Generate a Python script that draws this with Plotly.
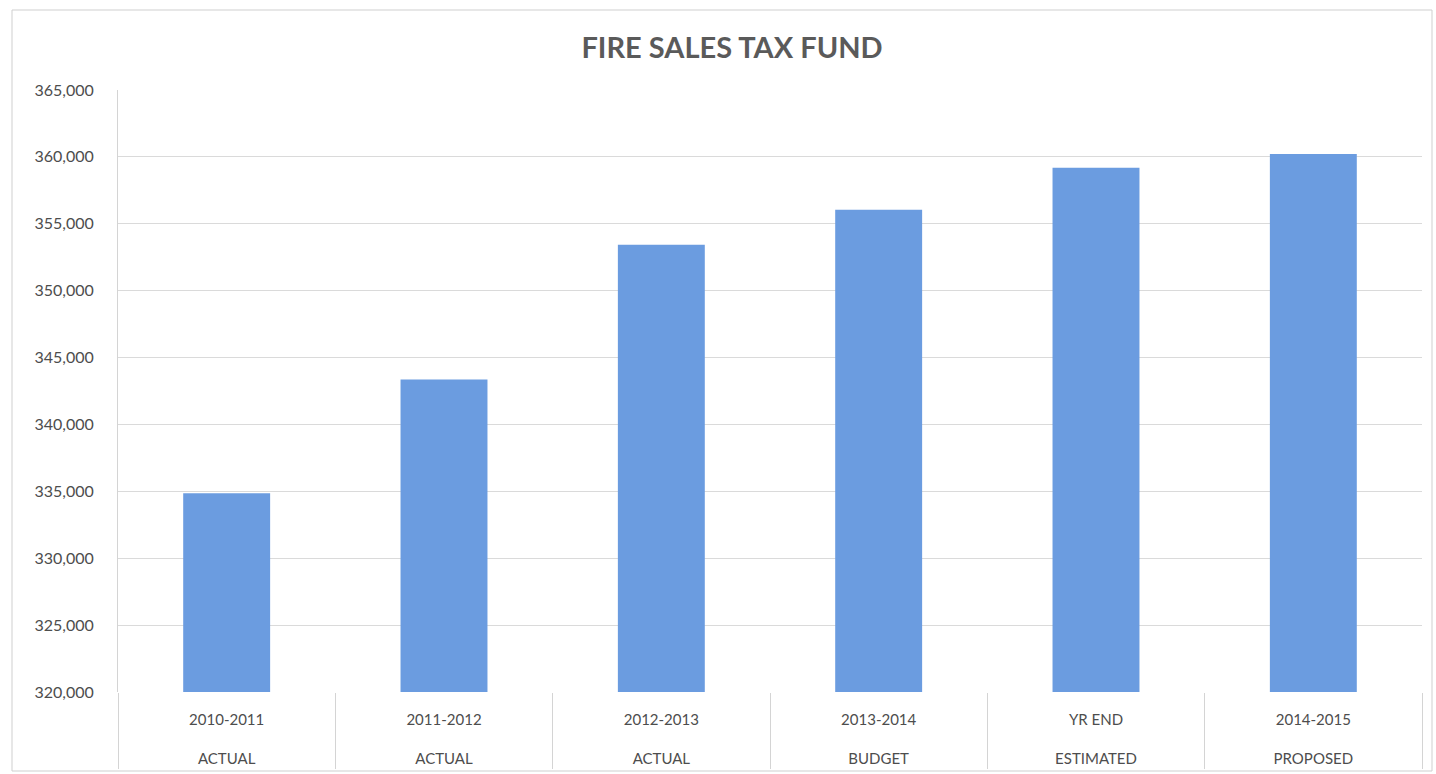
import plotly.graph_objects as go

# Fund totals by fiscal period
periods = ["2010-2011", "2011-2012", "2012-2013", "2013-2014", "YR END", "2014-2015"]
statuses = ["ACTUAL", "ACTUAL", "ACTUAL", "BUDGET", "ESTIMATED", "PROPOSED"]
amounts = [334850, 343360, 353430, 356040, 359180, 360220]

y_ticks = list(range(320000, 365001, 5000))
category_labels = [f"{p}<br><br>{s}" for p, s in zip(periods, statuses)]

W, H = 1436, 774
margin = dict(l=118, r=14, t=90, b=82)

fig = go.Figure(
    go.Bar(
        x=category_labels,
        y=amounts,
        marker=dict(color="#6b9ce0", line=dict(width=0)),
        width=0.4,
        hovertemplate="%{x}: %{y:,}<extra></extra>",
    )
)

font_family = "Lato, 'Open Sans', sans-serif"

fig.update_layout(
    width=W,
    height=H,
    margin=margin,
    paper_bgcolor="white",
    plot_bgcolor="white",
    showlegend=False,
    font=dict(family=font_family, color="#4d4d4d", size=16),
    title=dict(
        text="<b>FIRE SALES TAX FUND</b>",
        x=732 / W,
        xanchor="center",
        y=1 - 48 / H,
        yanchor="middle",
        font=dict(family=font_family, size=29, color="#5a5a5a"),
    ),
    xaxis=dict(
        type="category",
        tickson="boundaries",
        ticks="outside",
        ticklen=76,
        tickcolor="#d4d4d4",
        tickwidth=1,
        showgrid=False,
        showline=False,
        automargin=False,
        ticklabelstandoff=17,
        tickfont=dict(size=15, color="#4d4d4d"),
        range=[-0.5, 5.5],
    ),
    yaxis=dict(
        range=[320000, 365000],
        tickvals=y_ticks,
        tickformat=",",
        showgrid=True,
        gridcolor="#dadada",
        gridwidth=1,
        showline=True,
        linecolor="#d4d4d4",
        linewidth=1,
        zeroline=False,
        ticks="",
        automargin=False,
        ticklabelstandoff=20,
        tickfont=dict(size=16, color="#4d4d4d"),
    ),
)

# Thin outer frame around the chart
pw = W - margin["l"] - margin["r"]
ph = H - margin["t"] - margin["b"]
fig.add_shape(
    type="rect",
    xref="paper",
    yref="paper",
    x0=(12 - margin["l"]) / pw,
    x1=(W - 4 - margin["l"]) / pw,
    y0=(H - 771 - margin["b"]) / ph,
    y1=(H - 10 - margin["b"]) / ph,
    line=dict(color="#cfcfcf", width=1),
    fillcolor="rgba(0,0,0,0)",
    layer="below",
)

fig.write_html("out.html")
